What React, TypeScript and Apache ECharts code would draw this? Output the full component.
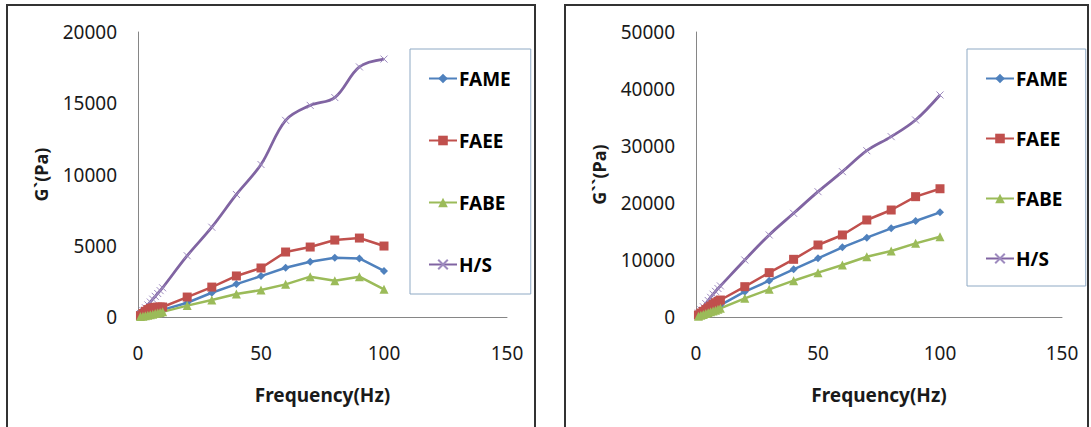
import React, { useEffect, useRef } from "react";
import * as echarts from "echarts";

const freq = [1, 2, 3, 4, 5, 6, 7, 8, 9, 10, 20, 30, 40, 50, 60, 70, 80, 90, 100];
const seriesNames = ["FAME", "FAEE", "FABE", "H/S"];

// G' (storage modulus), Pa
const gPrimeFAME = [50, 100, 150, 200, 250, 300, 350, 400, 450, 500, 1000, 1700, 2310, 2870, 3460, 3880, 4160, 4110, 3230];
const gPrimeFAEE = [100, 250, 400, 520, 600, 650, 680, 690, 700, 700, 1400, 2100, 2880, 3440, 4560, 4910, 5400, 5540, 4980];
const gPrimeFABE = [30, 60, 90, 120, 160, 200, 240, 280, 320, 360, 800, 1190, 1610, 1890, 2290, 2830, 2550, 2830, 1940];
const gPrimeHS = [250, 450, 650, 850, 1050, 1250, 1450, 1650, 1850, 2050, 4300, 6300, 8600, 10700, 13800, 14850, 15400, 17550, 18100];

// G'' (loss modulus), Pa
const g2FAME = [250, 500, 700, 900, 1100, 1300, 1500, 1700, 1900, 2100, 4440, 6370, 8360, 10290, 12220, 13920, 15560, 16840, 18360];
const g2FAEE = [350, 700, 1000, 1300, 1600, 1900, 2200, 2500, 2750, 2980, 5320, 7780, 10120, 12630, 14390, 17020, 18770, 21110, 22500];
const g2FABE = [150, 300, 450, 600, 750, 900, 1050, 1200, 1350, 1520, 3270, 4850, 6370, 7780, 9120, 10580, 11580, 12920, 14090];
const g2HS = [700, 1250, 1800, 2350, 2900, 3450, 4000, 4500, 5000, 5450, 10000, 14390, 18190, 21990, 25500, 29180, 31640, 34560, 38950];

const xTicks = { min: 0, max: 150, interval: 50 };
const yLeftTicks = { min: 0, max: 20000, interval: 5000 };
const yRightTicks = { min: 0, max: 50000, interval: 10000 };

const colors = ["#4F81BD", "#C0504D", "#9BBB59", "#8064A2"];
const symbols = ["diamond", "rect", "triangle", "path://M0,0L10,10M10,0L0,10"];
const symbolSizes = [8, 9, 9, 7];

const FONT = "'Noto Sans', 'Noto Sans CJK KR', sans-serif";

function pairs(vals: number[]) {
  return freq.map((x, i) => [x, vals[i]]);
}

export default function App() {
  const ref = useRef<HTMLDivElement>(null);

  useEffect(() => {
    if (!ref.current) return;
    const chart = echarts.init(ref.current, null, { renderer: "svg" });

    const leftData = [gPrimeFAME, gPrimeFAEE, gPrimeFABE, gPrimeHS];
    const rightData = [g2FAME, g2FAEE, g2FABE, g2HS];

    const mkSeries = (data: number[][], idx: number) =>
      data.map((vals, i) => ({
        name: seriesNames[i],
        type: "line",
        xAxisIndex: idx,
        yAxisIndex: idx,
        data: pairs(vals),
        smooth: i === 3 ? 0.35 : false,
        symbol: symbols[i],
        symbolSize: symbolSizes[i],
        showAllSymbol: true,
        lineStyle: { color: colors[i], width: i === 3 ? 2.8 : 2.5 },
        itemStyle:
          i === 3
            ? { color: "#B3A2C7", borderColor: "#9E8BBF", borderWidth: 1 }
            : { color: colors[i], borderWidth: 0 },
        z: i === 3 ? 2 : 3,
      }));

    const axisLabel = {
      fontSize: 19,
      color: "#1a1a1a",
      fontFamily: FONT,
      formatter: (v: number) => String(v),
    };
    const xAxisBase = (gi: number) => ({
      type: "value",
      gridIndex: gi,
      ...xTicks,
      name: "Frequency(Hz)",
      nameLocation: "middle",
      nameGap: 68,
      nameTextStyle: { fontSize: 19, fontWeight: "bold", color: "#1a1a1a", fontFamily: FONT },
      axisLine: { show: true, lineStyle: { color: "#868686", width: 1 } },
      axisTick: { show: false },
      splitLine: { show: false },
      axisLabel: { ...axisLabel, margin: 26 },
    });
    const yAxisBase = (gi: number, ticks: any, name: string) => ({
      type: "value",
      gridIndex: gi,
      ...ticks,
      name,
      nameLocation: "middle",
      nameGap: 88,
      nameTextStyle: { fontSize: 18, fontWeight: "bold", color: "#1a1a1a", fontFamily: FONT },
      axisLine: { show: true, lineStyle: { color: "#868686", width: 1 } },
      axisTick: { show: false },
      splitLine: { show: false },
      axisLabel: { ...axisLabel, margin: 21 },
    });

    const legendBase = (left: number, gap: number, padBottom: number, padRight: number) => ({
      orient: "vertical",
      left,
      top: 49,
      data: seriesNames,
      itemGap: gap,
      itemWidth: 28,
      itemHeight: 12,
      padding: [20, padRight, padBottom, 18],
      borderColor: "#8EA9C4",
      borderWidth: 1,
      selectedMode: false,
      textStyle: { fontSize: 19, fontWeight: "bold", color: "#000", fontFamily: FONT, padding: [0, 0, 0, -3] },
    });

    chart.setOption({
      animation: false,
      backgroundColor: "#ffffff",
      grid: [
        { left: 138, top: 32, width: 369, height: 285 },
        { left: 696, top: 32, width: 366, height: 285 },
      ],
      xAxis: [xAxisBase(0), xAxisBase(1)],
      yAxis: [yAxisBase(0, yLeftTicks, "G`(Pa)"), yAxisBase(1, yRightTicks, "G``(Pa)")],
      legend: [legendBase(410, 43, 20, 20), legendBase(967, 41, 18, 18)],
      series: [...mkSeries(leftData, 0), ...mkSeries(rightData, 1)],
      graphic: [
        {
          type: "rect",
          shape: { x: 7, y: 5, width: 528, height: 440 },
          style: { fill: "none", stroke: "#333", lineWidth: 2 },
          silent: true,
        },
        {
          type: "rect",
          shape: { x: 565, y: 5, width: 523, height: 440 },
          style: { fill: "none", stroke: "#333", lineWidth: 2 },
          silent: true,
        },
      ],
    });

    return () => chart.dispose();
  }, []);

  return (
    <div
      ref={ref}
      style={{ position: "fixed", left: 0, top: 0, width: 1091, height: 427, background: "#fff" }}
    />
  );
}
